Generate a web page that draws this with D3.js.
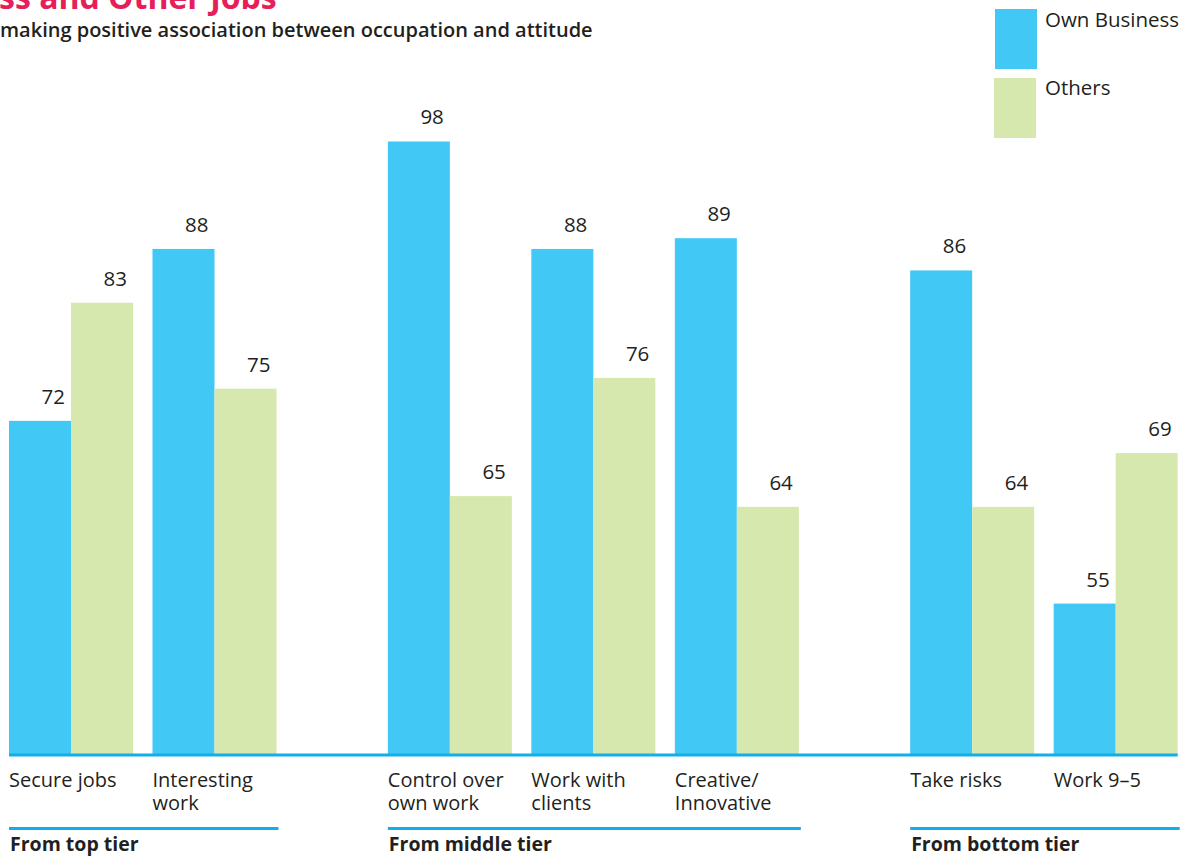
<!DOCTYPE html>
<html>
<head>
<meta charset="utf-8">
<script src="https://cdn.jsdelivr.net/npm/d3@7"></script>
<style>
  html, body { margin: 0; padding: 0; background: #fff; }
  svg { display: block; }
  text { font-family: "Open Sans", Lato, sans-serif; fill: #231f20; }
</style>
</head>
<body>
<svg id="chart" width="1193" height="857"></svg>
<script>
// ---- data ----
const categories = [
  ["Secure jobs"], ["Interesting", "work"],
  ["Control over", "own work"], ["Work with", "clients"], ["Creative/", "Innovative"],
  ["Take risks"], ["Work 9–5"]
];
const categoryGroup = [0, 0, 1, 1, 1, 2, 2];
const groups = ["From top tier", "From middle tier", "From bottom tier"];
const ownBusiness = [72, 88, 98, 88, 89, 86, 55];
const others = [83, 75, 65, 76, 64, 64, 69];
const seriesNames = ["Own Business", "Others"];
const titleText = "ss and Other Jobs";
const subtitleText = "making positive association between occupation and attitude";

// ---- styles ----
const BLUE = "#41c8f5";
const GREEN = "#d6e8ae";
const LINE = "#10aeea";
const TITLE = "#e61e5a";

const svg = d3.select("#chart");

const groupGap = 0.64;
const slot = (i) => i + categoryGroup[i] * groupGap;
const x = d3.scaleLinear().domain([0, 1]).range([9, 152.5]);
const barW = 62;
const y = d3.scaleLinear().domain([41, 100]).range([754, 120]);
const baseY = y(41);

const data = categories.map((c, i) => ({ i, label: c, own: ownBusiness[i], oth: others[i] }));

const bars = [];
data.forEach(d => {
  bars.push({ x: x(slot(d.i)), v: d.own, c: BLUE });
  bars.push({ x: x(slot(d.i)) + barW, v: d.oth, c: GREEN });
});

svg.append("g").selectAll("rect").data(bars).join("rect")
  .attr("x", d => d.x)
  .attr("width", barW)
  .attr("y", d => y(d.v))
  .attr("height", d => baseY - y(d.v))
  .attr("fill", d => d.c);

svg.append("g").selectAll("text").data(bars).join("text")
  .attr("x", d => d.x + barW - 6)
  .attr("y", d => y(d.v) - 17)
  .attr("text-anchor", "end")
  .attr("font-size", 20.5)
  .text(d => d.v);

const xEnd = x(slot(categories.length - 1)) + 2 * barW;
svg.append("rect")
  .attr("x", x(slot(0))).attr("y", baseY - 0.5)
  .attr("width", xEnd - x(slot(0))).attr("height", 3)
  .attr("fill", LINE);

// category labels, one text per line
const catLines = [];
data.forEach(d => d.label.forEach((t, k) => catLines.push({ t, k, x: x(slot(d.i)) })));
svg.append("g").selectAll("text").data(catLines).join("text")
  .attr("x", d => d.x)
  .attr("y", d => 787 + d.k * 23)
  .attr("font-size", 20)
  .text(d => d.t);

groups.forEach((g, gi) => {
  const idx = categoryGroup.map((v, i) => v === gi ? i : -1).filter(i => i >= 0);
  const x0 = x(slot(idx[0]));
  const x1 = x(slot(idx[idx.length - 1])) + 2 * barW + 2;
  svg.append("rect").attr("x", x0).attr("y", 827).attr("width", x1 - x0).attr("height", 3).attr("fill", LINE);
  svg.append("text").attr("x", x0 + 1).attr("y", 851)
    .attr("font-size", 19.5).attr("font-weight", "bold").text(g);
});

const leg = svg.append("g");
[BLUE, GREEN].forEach((c, k) => {
  leg.append("rect").attr("x", 995 - k).attr("y", 9 + k * 69).attr("width", 42).attr("height", 60).attr("fill", c);
  leg.append("text").attr("x", 1045).attr("y", 27 + k * 68).attr("font-size", 20.5).text(seriesNames[k]);
});

svg.append("text").attr("x", -1).attr("y", 9)
  .attr("font-size", 32).attr("font-weight", "bold").style("fill", TITLE).text(titleText);
svg.append("text").attr("x", 0).attr("y", 37)
  .attr("font-size", 20).attr("font-weight", 600).style("fill", "#231f20").text(subtitleText);
</script>
</body>
</html>
